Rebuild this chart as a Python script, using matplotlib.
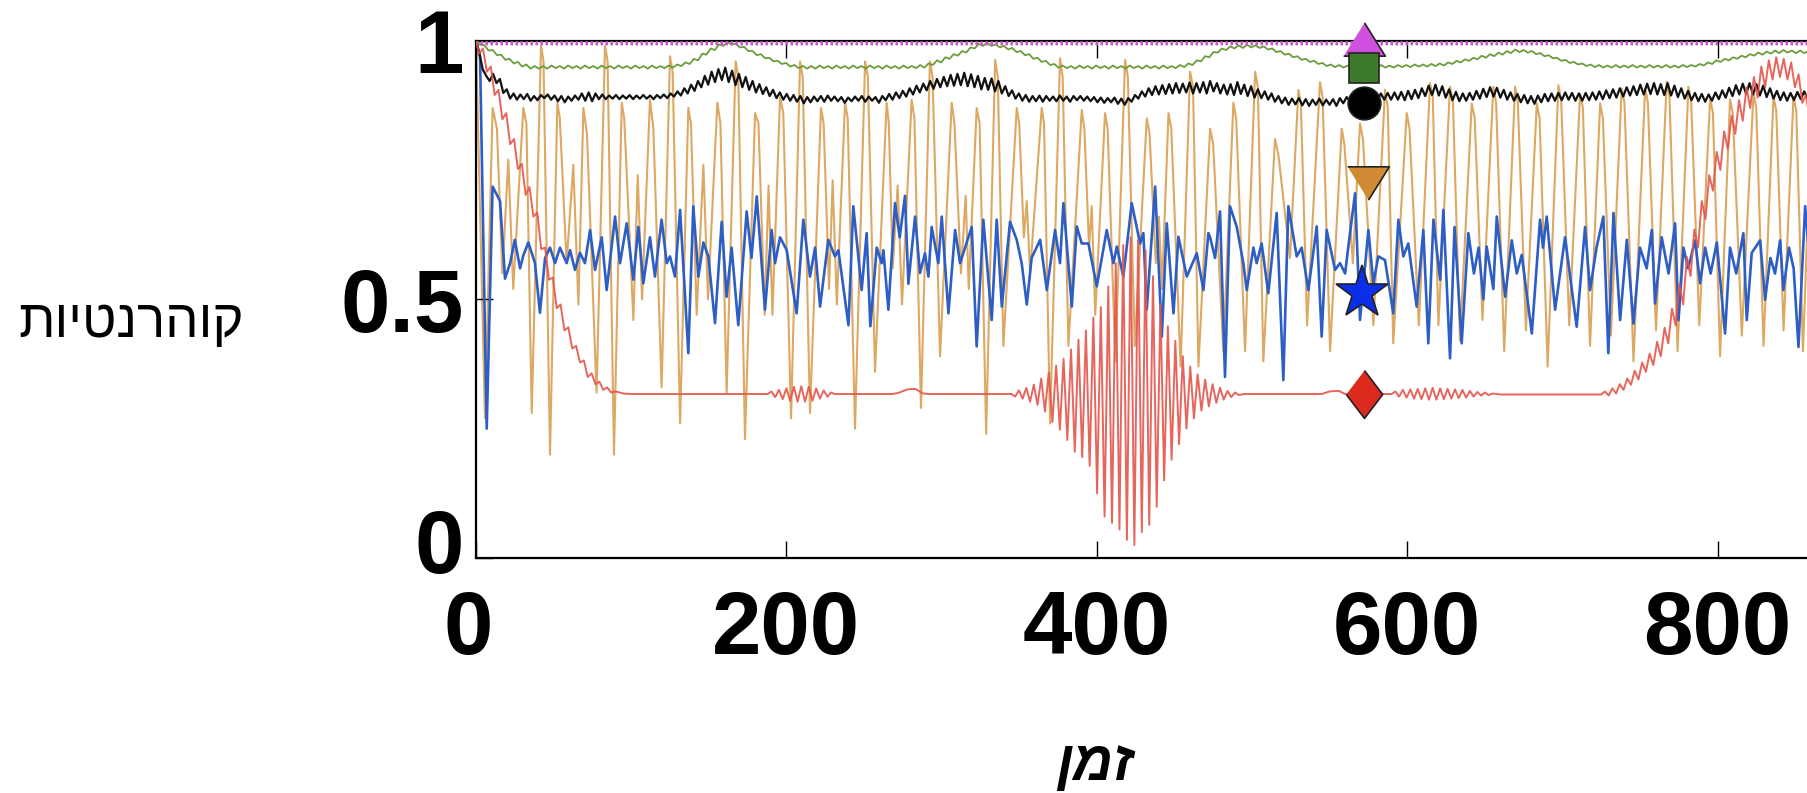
import numpy as np
import matplotlib
matplotlib.use("Agg")
import matplotlib.pyplot as plt
from matplotlib.transforms import ScaledTranslation

# ---- data (time in arbitrary units, coherence 0..1) ----

# orange: peaks / troughs (x, value)
orange_pts = [
    (0, 1.00), (5.8, 0.27), (10.7, 0.87), (13.5, 0.83), (17, 0.55), (20.8, 0.77), (24, 0.52),
    (30.5, 0.87), (32.5, 0.84), (35.9, 0.28), (41.9, 0.99), (43.5, 0.96), (47.7, 0.20),
    (52.4, 0.88), (54, 0.85), (58.4, 0.57), (62.7, 0.76), (66, 0.49), (69.2, 0.87), (71.5, 0.82),
    (77.7, 0.32), (83.1, 0.99), (84.8, 0.96), (88.9, 0.20), (93.9, 0.88), (95.5, 0.85),
    (101.4, 0.46), (104.2, 0.74), (107, 0.50), (112.1, 0.886), (114.3, 0.83), (119.6, 0.33),
    (125, 0.97), (126.7, 0.94), (131.5, 0.26), (136.8, 0.87), (138.5, 0.84), (142.2, 0.47),
    (146.5, 0.76), (149.5, 0.50), (155.5, 0.88), (157.5, 0.84), (161.5, 0.32), (167.3, 0.96),
    (169, 0.93), (173.3, 0.23), (179.8, 0.86), (182, 0.84), (186, 0.47), (188.5, 0.72),
    (191, 0.47), (195.9, 0.89), (198, 0.86), (203, 0.27), (208.8, 0.96), (210.5, 0.93),
    (215.2, 0.28), (222.3, 0.87), (224, 0.84), (227.5, 0.52), (229.8, 0.73), (232.5, 0.49),
    (237.8, 0.88), (239.5, 0.85), (244.2, 0.25), (250.7, 0.96), (252.5, 0.93), (257.1, 0.36),
    (264.6, 0.88), (266, 0.84), (268.5, 0.56), (271.7, 0.72), (274.5, 0.49), (280.7, 0.886),
    (282.5, 0.85), (286.7, 0.29), (292.5, 0.96), (294.2, 0.93), (299, 0.39), (306.5, 0.88),
    (308.3, 0.84), (312.5, 0.55), (315.5, 0.70), (317.5, 0.52), (322.6, 0.87), (324.5, 0.84),
    (328.7, 0.24), (334.5, 0.963), (336.2, 0.93), (339.8, 0.41), (348.4, 0.87), (350, 0.84),
    (353, 0.62), (354.9, 0.69), (357, 0.55), (364.5, 0.87), (366, 0.84), (369.9, 0.26),
    (376.3, 0.966), (378, 0.93), (381.7, 0.41), (390.3, 0.866), (392, 0.83), (395, 0.60),
    (396.7, 0.68), (399, 0.47), (405.3, 0.86), (407, 0.83), (412, 0.38), (418.2, 0.963),
    (420, 0.93), (424.5, 0.41), (432.2, 0.85), (434, 0.82), (438, 0.57), (440, 0.66),
    (442, 0.52), (446.2, 0.86), (448, 0.83), (454, 0.37), (460.1, 0.94), (462, 0.91),
    (465.5, 0.37), (473, 0.83), (475, 0.80), (481.5, 0.40), (488, 0.88), (489.8, 0.85),
    (495.5, 0.40), (502, 0.94), (503.8, 0.91), (507.3, 0.38), (514.8, 0.81), (517, 0.78),
    (524.5, 0.58), (529.9, 0.905), (531.5, 0.88), (535.5, 0.45), (543.8, 0.92), (545.5, 0.89),
    (550.3, 0.40), (557.8, 0.83), (559.5, 0.80), (565, 0.57), (569.6, 0.84), (571.5, 0.81),
    (578.2, 0.45), (585.7, 0.905), (587.5, 0.87), (591, 0.415), (599.7, 0.86), (601.5, 0.83),
    (607.5, 0.45), (614.7, 0.918), (616.5, 0.89), (620.1, 0.45), (627.6, 0.911), (629.5, 0.88),
    (634, 0.42), (641.6, 0.879), (643.5, 0.85), (648.5, 0.46), (655.5, 0.911), (657.3, 0.88),
    (662.5, 0.40), (669.5, 0.911), (671.3, 0.88), (676.5, 0.44), (683.5, 0.879), (685.3, 0.85),
    (690.5, 0.37), (697.4, 0.914), (699.2, 0.885), (704.4, 0.45), (711.4, 0.898), (713.2, 0.87),
    (717.8, 0.41), (724.3, 0.879), (726.1, 0.85), (731.3, 0.43), (738.2, 0.908), (740, 0.88),
    (745.8, 0.38), (753.3, 0.908), (755.1, 0.88), (760.3, 0.44), (767.2, 0.921), (769, 0.89),
    (774.2, 0.40), (781.2, 0.911), (783, 0.88), (788.2, 0.45), (795.2, 0.889), (797, 0.86),
    (801.6, 0.39), (808, 0.886), (809.8, 0.86), (815.6, 0.43), (823.1, 0.898), (824.9, 0.87),
    (829.6, 0.41), (836, 0.892), (837.8, 0.865), (842.5, 0.44), (848.9, 0.892), (850.7, 0.865),
    (855, 0.40), (861, 0.90), (863, 0.87), (867, 0.45),
]

# blue: peaks / troughs (x, value)
blue_pts = [
    (0, 1.0), (2.6, 0.97), (6.9, 0.25), (10.7, 0.718), (15.5, 0.69), (18.7, 0.54), (22, 0.57),
    (25, 0.615), (28.4, 0.56), (30.5, 0.585), (33.7, 0.61), (38, 0.57), (41.2, 0.474),
    (44.5, 0.58), (47.7, 0.60), (50.9, 0.57), (54.1, 0.60), (58.4, 0.57), (60.6, 0.595),
    (63.8, 0.557), (67, 0.59), (70.2, 0.57), (73.5, 0.634), (76.7, 0.557), (81, 0.62),
    (84.2, 0.518), (89.6, 0.66), (92.8, 0.57), (97.1, 0.647), (101.4, 0.538), (104.6, 0.64),
    (107.8, 0.531), (112.1, 0.62), (115.3, 0.544), (119.6, 0.654), (122.9, 0.57), (125, 0.583),
    (128.2, 0.544), (131.5, 0.673), (136.8, 0.396), (140, 0.68), (143.3, 0.544), (146.5, 0.61),
    (149.7, 0.583), (154, 0.454), (158.3, 0.65), (161.5, 0.505), (164.7, 0.60), (169, 0.45),
    (174.4, 0.67), (177.5, 0.58), (180.9, 0.699), (186.2, 0.48), (190.5, 0.634), (192.7, 0.57),
    (195.9, 0.62), (200.2, 0.595), (206.6, 0.473), (210.9, 0.654), (215.2, 0.544), (218.5, 0.60),
    (221.7, 0.486), (227, 0.615), (231.3, 0.583), (233.5, 0.595), (240, 0.45), (243.1, 0.68),
    (248.5, 0.518), (251.7, 0.628), (254.1, 0.448), (258.2, 0.60), (261.4, 0.57), (262.5, 0.595),
    (265.7, 0.48), (270, 0.686), (273, 0.62), (276.4, 0.70), (278.6, 0.53), (282.9, 0.66),
    (286.1, 0.551), (289.3, 0.589), (291.5, 0.544), (293.6, 0.64), (297.9, 0.57), (300.1, 0.66),
    (304.4, 0.473), (308.7, 0.634), (311.9, 0.57), (319.4, 0.64), (322.6, 0.409), (326.9, 0.654),
    (332.3, 0.46), (335.5, 0.654), (338.8, 0.486), (344.1, 0.65), (348.4, 0.615), (351.6, 0.57),
    (354.9, 0.49), (358, 0.58), (363.5, 0.615), (367.8, 0.518), (373.1, 0.634), (376.3, 0.57),
    (378.5, 0.686), (383.9, 0.486), (387.1, 0.641), (390.3, 0.608), (394.6, 0.608), (400, 0.525),
    (406.4, 0.634), (410.7, 0.57), (412.9, 0.602), (417.1, 0.544), (422.5, 0.686), (427.9, 0.608),
    (430, 0.628), (432.2, 0.48), (437.6, 0.718), (441.9, 0.428), (445.1, 0.647), (449.4, 0.473),
    (452.6, 0.621), (458, 0.544), (464.4, 0.589), (468.7, 0.518), (471.9, 0.628), (473, 0.62),
    (476.2, 0.58), (479.4, 0.67), (482.6, 0.35), (485.8, 0.68), (490.1, 0.641), (494.4, 0.57),
    (496.6, 0.518), (500.9, 0.60), (503, 0.57), (506.2, 0.608), (510.5, 0.512), (515.9, 0.667),
    (520.2, 0.344), (523.4, 0.68), (528.8, 0.583), (532, 0.60), (536.3, 0.518), (541.7, 0.641),
    (544.9, 0.428), (548.1, 0.634), (553.5, 0.557), (556.7, 0.57), (560, 0.55), (562, 0.60),
    (566.4, 0.705), (569.6, 0.46), (575, 0.634), (578.2, 0.531), (581.4, 0.583), (585.7, 0.576),
    (591, 0.473), (594.3, 0.654), (597.5, 0.583), (600.7, 0.608), (606.1, 0.486), (610.4, 0.634),
    (613.6, 0.415), (616.9, 0.654), (621.2, 0.538), (623.3, 0.673), (627.6, 0.386), (630.5, 0.64),
    (635.1, 0.415), (639.4, 0.628), (643, 0.55), (646, 0.60), (649.1, 0.50), (651.2, 0.602),
    (655.5, 0.52), (657.7, 0.66), (663.1, 0.505), (667.4, 0.614), (670.6, 0.55), (673.8, 0.586),
    (680.3, 0.434), (685.6, 0.654), (687.5, 0.60), (689.9, 0.66), (695.3, 0.48), (701.7, 0.62),
    (709.2, 0.447), (714.6, 0.64), (717.8, 0.518), (722, 0.60), (726.4, 0.66), (729.6, 0.396),
    (732.9, 0.667), (737.2, 0.46), (741.5, 0.615), (745.8, 0.453), (750, 0.60), (754.3, 0.56),
    (757.6, 0.634), (759.7, 0.492), (764, 0.62), (768.4, 0.55), (772.6, 0.647), (774.8, 0.46),
    (778, 0.60), (781, 0.56), (785.5, 0.614), (788.7, 0.531), (792, 0.60), (795.5, 0.55),
    (799.5, 0.61), (804.8, 0.434), (808, 0.60), (812, 0.55), (816.6, 0.628), (818.8, 0.46),
    (822, 0.59), (827.4, 0.614), (830.6, 0.499), (834, 0.58), (837, 0.55), (840.3, 0.614),
    (842.4, 0.518), (846, 0.60), (849, 0.56), (852.1, 0.408), (856.4, 0.68), (860, 0.55),
    (864, 0.62), (868, 0.50),
]

# green: sampled every 2.7 time units, values in thousandths
green_step = 2.7
green_v = [
    1000, 992, 991, 981, 982, 972, 973, 963, 965, 956,
    959, 950, 954, 946, 951, 946, 951, 946, 952, 947,
    951, 946, 952, 947, 951, 946, 952, 947, 951, 946,
    952, 947, 951, 946, 952, 947, 951, 946, 952, 947,
    951, 946, 952, 947, 951, 947, 952, 948, 954, 951,
    958, 955, 965, 962, 975, 973, 985, 982, 993, 990,
    997, 993, 994, 987, 988, 980, 980, 972, 974, 966,
    967, 960, 961, 955, 957, 950, 953, 947, 951, 946,
    951, 946, 952, 947, 951, 946, 952, 947, 951, 946,
    952, 947, 951, 946, 952, 947, 951, 946, 952, 947,
    951, 946, 952, 947, 951, 947, 953, 948, 956, 953,
    962, 958, 968, 965, 974, 971, 980, 977, 987, 985,
    994, 990, 996, 990, 993, 987, 990, 983, 986, 978,
    980, 972, 974, 965, 967, 959, 961, 953, 955, 948,
    952, 947, 951, 946, 952, 947, 951, 946, 952, 947,
    951, 946, 952, 947, 951, 946, 952, 947, 951, 946,
    952, 947, 951, 946, 952, 947, 951, 947, 953, 949,
    956, 953, 962, 960, 970, 968, 978, 977, 985, 982,
    989, 985, 991, 986, 992, 987, 991, 986, 989, 983,
    985, 978, 980, 973, 975, 968, 970, 963, 965, 959,
    961, 955, 957, 951, 954, 949, 953, 948, 952, 948,
    952, 948, 953, 948, 952, 948, 953, 948, 952, 948,
    953, 949, 953, 949, 954, 950, 954, 950, 955, 951,
    956, 952, 958, 955, 961, 958, 964, 961, 967, 964,
    971, 967, 974, 970, 977, 973, 980, 976, 983, 978,
    982, 977, 980, 974, 976, 970, 972, 966, 967, 961,
    963, 957, 959, 954, 956, 951, 954, 949, 953, 948,
    952, 948, 953, 948, 952, 948, 953, 948, 952, 948,
    953, 948, 952, 948, 953, 948, 952, 948, 953, 949,
    953, 950, 955, 952, 958, 955, 962, 959, 965, 962,
    968, 965, 971, 968, 974, 971, 977, 973, 979, 975,
    981, 976, 982, 977, 981, 976, 981, 976, 980, 976,
    980, 976,
]

# black: sampled every 2.2 time units, values in thousandths
black_step = 2.2
black_v = [
    1000, 975, 944, 932, 922, 936, 918, 926, 899, 906,
    888, 898, 886, 896, 887, 897, 884, 893, 885, 895,
    889, 896, 886, 894, 883, 893, 881, 892, 884, 894,
    886, 898, 884, 900, 883, 898, 887, 896, 887, 894,
    888, 895, 887, 894, 888, 895, 887, 894, 888, 895,
    888, 894, 887, 895, 889, 896, 889, 898, 892, 902,
    894, 908, 898, 915, 903, 922, 910, 932, 915, 940,
    920, 945, 924, 948, 920, 942, 914, 936, 910, 930,
    905, 922, 900, 916, 897, 910, 893, 905, 889, 900,
    886, 897, 884, 895, 882, 893, 879, 891, 881, 892,
    883, 893, 882, 894, 884, 892, 883, 891, 880, 890,
    883, 892, 884, 893, 882, 892, 884, 891, 880, 893,
    885, 897, 886, 900, 889, 903, 892, 908, 896, 913,
    900, 917, 904, 922, 907, 926, 910, 930, 912, 934,
    913, 936, 914, 938, 912, 935, 910, 932, 906, 928,
    905, 927, 902, 922, 898, 912, 893, 904, 888, 898,
    884, 895, 882, 893, 883, 894, 882, 893, 884, 892,
    883, 894, 884, 892, 882, 893, 885, 893, 884, 892,
    883, 891, 881, 890, 880, 889, 881, 890, 878, 888,
    876, 889, 882, 895, 888, 902, 892, 908, 895, 912,
    896, 914, 897, 916, 898, 918, 899, 917, 900, 919,
    898, 918, 900, 920, 898, 922, 902, 918, 898, 915,
    896, 916, 895, 920, 897, 915, 893, 912, 890, 906,
    889, 902, 886, 898, 882, 893, 879, 890, 876, 888,
    877, 889, 875, 887, 874, 886, 876, 888, 875, 886,
    876, 887, 874, 889, 879, 891, 882, 893, 884, 894,
    885, 896, 884, 897, 884, 898, 886, 899, 886, 900,
    886, 901, 885, 903, 887, 905, 889, 908, 893, 913,
    895, 915, 894, 912, 890, 906, 885, 901, 883, 898,
    884, 899, 886, 903, 888, 907, 891, 910, 892, 909,
    890, 905, 886, 900, 884, 897, 881, 895, 879, 893,
    878, 894, 881, 897, 883, 898, 884, 899, 885, 900,
    886, 899, 884, 898, 884, 899, 885, 900, 886, 902,
    887, 904, 889, 906, 890, 908, 892, 910, 894, 912,
    895, 915, 896, 917, 897, 918, 896, 916, 895, 918,
    894, 913, 891, 908, 888, 903, 885, 899, 883, 897,
    882, 896, 884, 900, 887, 904, 890, 909, 893, 914,
    896, 917, 897, 918, 896, 916, 894, 913, 891, 908,
    888, 903, 885, 900, 884, 899, 885, 901, 887, 902,
    888, 903, 887, 901, 889,
]

# red: (x, value)
red_pts = [
    (0, 1.0), (2, 0.975), (4.5, 0.985), (7, 0.94), (9.5, 0.95), (12, 0.895), (14.5, 0.905),
    (17, 0.848), (19.5, 0.86), (22, 0.80), (24.5, 0.81), (27, 0.752), (29.5, 0.762), (32, 0.702),
    (34.5, 0.717), (37, 0.66), (39.5, 0.668), (42, 0.597), (44.5, 0.60), (47, 0.538),
    (49.5, 0.542), (52, 0.483), (54.5, 0.49), (57, 0.44), (59.5, 0.446), (62, 0.405),
    (64.5, 0.41), (67, 0.378), (69.5, 0.382), (72, 0.35), (74.5, 0.357), (77, 0.336),
    (79.5, 0.341), (82, 0.325), (84.5, 0.33), (87, 0.32), (90, 0.322), (95, 0.318),
    (100, 0.317), (188, 0.317), (190.4, 0.322), (192.8, 0.311), (195.2, 0.325), (197.6, 0.307),
    (200, 0.328), (202.4, 0.304), (204.8, 0.331), (207.2, 0.302), (209.6, 0.332), (212, 0.302),
    (214.4, 0.331), (216.8, 0.304), (219.2, 0.328), (221.6, 0.308), (224, 0.324), (226.4, 0.312),
    (228.8, 0.32), (231, 0.317), (268, 0.317), (272, 0.319), (278, 0.326), (283, 0.327),
    (288, 0.318), (292, 0.317), (345, 0.317), (347.4, 0.312), (349.8, 0.324), (352.2, 0.308),
    (354.6, 0.329), (357, 0.302), (359.4, 0.335), (361.8, 0.296), (364.2, 0.347), (366.6, 0.283),
    (369, 0.358), (371.4, 0.263), (373.8, 0.372), (376.2, 0.248), (378.6, 0.385), (381, 0.228),
    (383.4, 0.403), (385.8, 0.205), (388.2, 0.422), (390.6, 0.195), (393, 0.44), (395.4, 0.178),
    (397.8, 0.465), (400.2, 0.125), (402.6, 0.485), (405, 0.08), (407.4, 0.525), (409.8, 0.068),
    (412.2, 0.57), (414.6, 0.055), (417, 0.605), (419.4, 0.035), (421.8, 0.62), (424.2, 0.025),
    (426.6, 0.615), (429, 0.05), (431.4, 0.595), (433.8, 0.064), (436.2, 0.545), (438.6, 0.099),
    (441, 0.49), (443.4, 0.15), (445.8, 0.448), (448.2, 0.19), (450.6, 0.42), (453, 0.22),
    (455.4, 0.39), (457.8, 0.25), (460.2, 0.37), (462.6, 0.27), (465, 0.355), (467.4, 0.285),
    (469.8, 0.345), (472.2, 0.293), (474.6, 0.336), (477, 0.30), (479.4, 0.329), (481.8, 0.306),
    (484.2, 0.323), (486.6, 0.311), (489, 0.32), (491.4, 0.315), (495, 0.317), (545, 0.317),
    (550, 0.322), (556, 0.323), (560, 0.317), (590, 0.317), (592.4, 0.322), (594.8, 0.312),
    (597.2, 0.325), (599.6, 0.31), (602, 0.326), (604.4, 0.308), (606.8, 0.327), (609.2, 0.307),
    (611.6, 0.328), (614, 0.306), (616.4, 0.329), (618.8, 0.306), (621.2, 0.328), (623.6, 0.307),
    (626, 0.327), (628.4, 0.308), (630.8, 0.326), (633.2, 0.309), (635.6, 0.325), (638, 0.31),
    (640.4, 0.323), (642.8, 0.312), (645.2, 0.321), (647.6, 0.314), (650, 0.32), (652.4, 0.315),
    (655, 0.318), (660, 0.316), (725, 0.316), (727.4, 0.322), (729.8, 0.314), (732.2, 0.328),
    (734.6, 0.318), (737, 0.336), (739.4, 0.325), (741.8, 0.347), (744.2, 0.335), (746.6, 0.362),
    (749, 0.345), (751.4, 0.378), (753.8, 0.36), (756.2, 0.395), (758.6, 0.373), (761, 0.418),
    (763.4, 0.39), (765.8, 0.445), (768.2, 0.415), (770.6, 0.482), (773, 0.45), (775.4, 0.53),
    (777.8, 0.49), (780.2, 0.582), (782.6, 0.545), (785, 0.635), (787.4, 0.60), (789.8, 0.69),
    (792.2, 0.655), (794.6, 0.74), (797, 0.71), (799.4, 0.785), (801.8, 0.75), (804.2, 0.825),
    (806.6, 0.79), (809, 0.855), (811.4, 0.82), (813.8, 0.885), (816.2, 0.845), (818.6, 0.91),
    (821, 0.87), (823.4, 0.93), (825.8, 0.89), (828.2, 0.95), (830.6, 0.91), (833, 0.962),
    (835.4, 0.925), (837.8, 0.968), (840.2, 0.93), (842.6, 0.965), (845, 0.925), (847.4, 0.958),
    (849.8, 0.91), (852.2, 0.935), (854.6, 0.88), (857, 0.895), (859.4, 0.845), (861.8, 0.86),
    (864.2, 0.815), (866.6, 0.83),
]

# magenta stays at the top
magenta_t = [0, 4, 870]
magenta_v = [1.0, 0.995, 0.995]

# symbols placed on the curves near t = 572
marker_t = [572, 572, 572, 575, 571, 572]
marker_v = [1.004, 0.948, 0.879, 0.725, 0.513, 0.317]

xticks = [0, 200, 400, 600, 800, 1000]
xtick_labels = ["0", "200", "400", "600", "800", ""]
yticks = [0, 0.5, 1]
ytick_labels = ["0", "0.5", "1"]
xlabel = "זמן"
ylabel = "קוהרנטיות"

# ---- plotting ----
W, H = 1808, 793
fig = plt.figure(figsize=(W / 100, H / 100), dpi=100)
ax = fig.add_axes([476 / W, (H - 558) / H, 1552 / W, 517.3 / H])

ot, ov = zip(*orange_pts)
bt, bv = zip(*blue_pts)
rt, rv = zip(*red_pts)
gt = np.arange(len(green_v)) * green_step
kt = np.arange(len(black_v)) * black_step

ax.plot(ot, ov, color="#dca862", lw=1.5, zorder=1)
ax.plot(bt, bv, color="#2c5ec6", lw=1.9, zorder=2)
ax.plot(gt, np.array(green_v) / 1000, color="#6c9c3c", lw=1.3, zorder=3)
ax.plot(kt, np.array(black_v) / 1000, color="#111111", lw=1.6, zorder=3)
ax.plot(magenta_t, magenta_v, color="#cc55cc", lw=3, ls=(0, (0.6, 0.6)), zorder=3)
ax.plot(rt, rv, color="#e4554b", lw=1.4, alpha=0.9, zorder=4)

tri_up = [(-1, -0.8), (1, -0.8), (0, 0.8)]
tri_dn = [(-1, 0.8), (1, 0.8), (0, -0.8)]
diamond = [(0, 1), (0.76, 0), (0, -1), (-0.76, 0)]
styles = [
    (tri_up, 30, "#d050e0"),
    ("s", 21, "#3d7a2c"),
    ("o", 23.5, "#000000"),
    (tri_dn, 30, "#d08a33"),
    ("*", 40, "#0b2ee8"),
    (diamond, 34.5, "#dd2a1f"),
]
for (m, ms, c), t, v in zip(styles, marker_t, marker_v):
    ax.plot([t], [v], marker=m, ms=ms, color=c, mec="#222222", mew=1.2,
            ls="none", zorder=6, clip_on=False)

ax.set_xlim(0, 1000)
ax.set_ylim(0, 1)
ax.set_xticks(xticks)
ax.set_xticklabels(xtick_labels)
ax.set_yticks(yticks)
ax.set_yticklabels(ytick_labels)
ax.tick_params(direction="in", length=12, width=1, top=True, right=True)
ax.tick_params(axis="x", pad=22)
ax.tick_params(axis="y", pad=9)
for lab in ax.get_xticklabels() + ax.get_yticklabels():
    lab.set_fontfamily(["Liberation Sans", "DejaVu Sans"])
    lab.set_fontweight("bold")
    lab.set_fontsize(64)
# the two "0" labels sit a little off their ticks in the reference
xl0 = ax.get_xticklabels()[0]
xl0.set_transform(xl0.get_transform() + ScaledTranslation(-8 / 100, 0, fig.dpi_scale_trans))
yl0 = ax.get_yticklabels()[0]
yl0.set_transform(yl0.get_transform() + ScaledTranslation(0, 18 / 100, fig.dpi_scale_trans))
for side in ["left", "bottom", "top", "right"]:
    ax.spines[side].set_linewidth(1.6)

# matplotlib lays text out left-to-right, so the Hebrew is reversed for display
heb = ["Liberation Sans", "DejaVu Sans"]
fig.text(131 / W, (H - 337) / H, ylabel[::-1], family=heb, fontsize=38,
         ha="center", va="baseline")
fig.text(1095 / W, (H - 780) / H, xlabel[::-1], family=heb, fontsize=40,
         style="italic", weight="bold", ha="center", va="baseline")

fig.savefig("out.png", dpi=100)
